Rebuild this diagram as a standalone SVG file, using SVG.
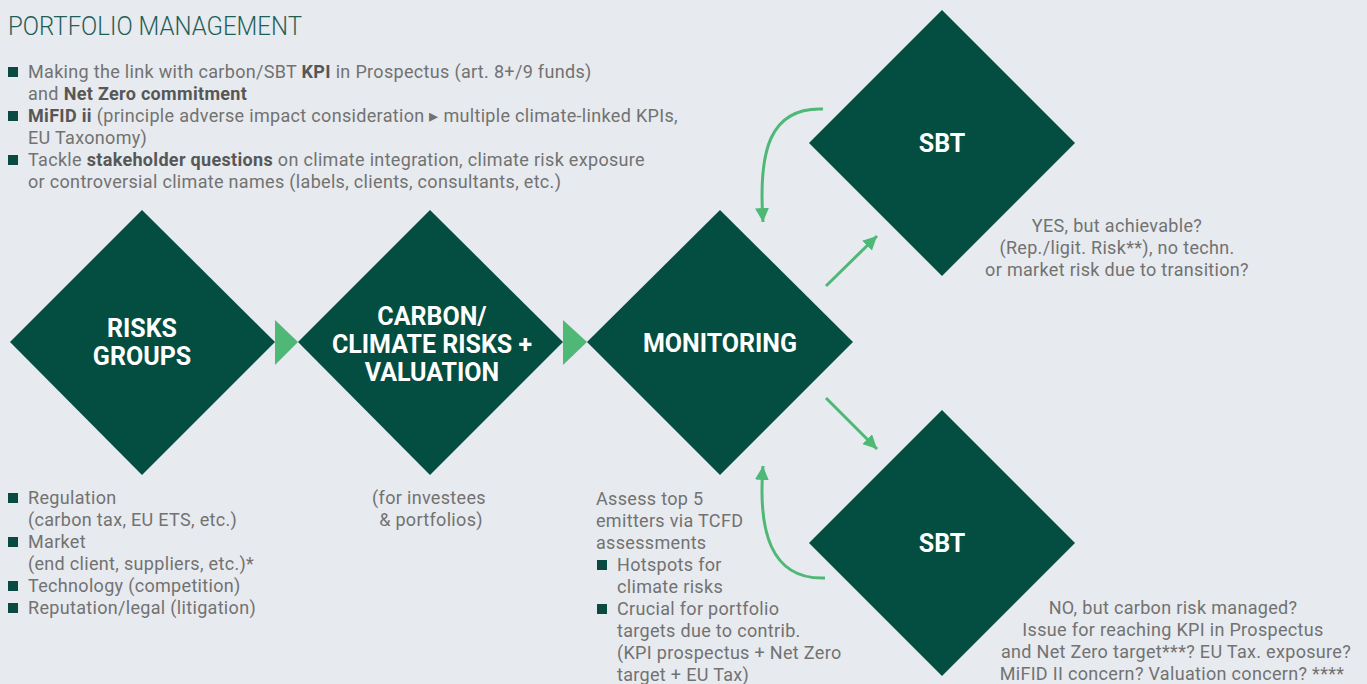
<svg xmlns="http://www.w3.org/2000/svg" width="1367" height="684" viewBox="0 0 1367 684">
<defs>
<style>
.bg{fill:#e7eaee}
.dia{fill:#034d41}
.tri{fill:#4fb877}
.lbl{font-family:Roboto,"Liberation Sans",sans-serif;font-weight:700;font-size:25px;fill:#ffffff;text-anchor:middle}
.txt{font-family:Roboto,"Liberation Sans",sans-serif;font-size:18px;letter-spacing:0.32px;fill:#727272}
.b{font-weight:700;fill:#575757}
.mid{text-anchor:middle}
.title{font-family:Roboto,"Liberation Sans",sans-serif;font-weight:300;font-size:25px;fill:#1f5f58}
.bul{fill:#0b4a40}
.con{fill:none;stroke:#4fb877;stroke-width:3}
</style>
<marker id="ah" markerUnits="userSpaceOnUse" markerWidth="20" markerHeight="20" refX="14" refY="7" orient="auto">
<path d="M0,0 L14,7 L0,14 Z" fill="#4fb877"/>
</marker>
</defs>
<rect class="bg" x="0" y="0" width="1367" height="684"/>

<text class="title" x="8" y="35" textLength="294" lengthAdjust="spacingAndGlyphs">PORTFOLIO MANAGEMENT</text>

<g id="intro">
<rect class="bul" x="8" y="67" width="10" height="10"/>
<text class="txt" x="28" y="78">Making the link with carbon/SBT <tspan class="b">KPI</tspan> in Prospectus (art. 8+/9 funds)</text>
<text class="txt" x="28" y="100">and <tspan class="b">Net Zero commitment</tspan></text>
<rect class="bul" x="8" y="111" width="10" height="10"/>
<text class="txt" x="28" y="122"><tspan class="b">MiFID ii</tspan> (principle adverse impact consideration ▸ multiple climate-linked KPIs,</text>
<text class="txt" x="28" y="144">EU Taxonomy)</text>
<rect class="bul" x="8" y="155" width="10" height="10"/>
<text class="txt" x="28" y="166">Tackle <tspan class="b">stakeholder questions</tspan> on climate integration, climate risk exposure</text>
<text class="txt" x="28" y="188">or controversial climate names (labels, clients, consultants, etc.)</text>
</g>

<g id="risks-groups">
<polygon class="dia" points="10,342 142,210 275,342 142,475"/>
<text class="lbl" x="142" y="337">RISKS</text>
<text class="lbl" x="142" y="365">GROUPS</text>
</g>

<g id="carbon-climate">
<polygon class="dia" points="298,342 430,210 563,342 430,475"/>
<text class="lbl" x="432" y="325">CARBON/</text>
<text class="lbl" x="432" y="353">CLIMATE RISKS +</text>
<text class="lbl" x="432" y="381">VALUATION</text>
</g>

<g id="monitoring">
<polygon class="dia" points="587,342 720,210 853,342 720,475"/>
<text class="lbl" x="720" y="352">MONITORING</text>
</g>

<g id="sbt-yes">
<polygon class="dia" points="809,143 942,10 1075,143 942,276"/>
<text class="lbl" x="942" y="152">SBT</text>
</g>

<g id="sbt-no">
<polygon class="dia" points="809,543 942,410 1075,543 942,676"/>
<text class="lbl" x="942" y="552">SBT</text>
</g>

<g id="connectors">
<polygon class="tri" points="275,320 298,342 275,365"/>
<polygon class="tri" points="563,320 587,342 563,365"/>
<path class="con" d="M823,109 C770,107 758,150 763,222" marker-end="url(#ah)"/>
<path class="con" d="M826,286 L877,236" marker-end="url(#ah)"/>
<path class="con" d="M826,398 L877,449" marker-end="url(#ah)"/>
<path class="con" d="M825,578 C770,580 758,530 763,466" marker-end="url(#ah)"/>
</g>

<g id="risk-notes">
<rect class="bul" x="8" y="493" width="10" height="10"/>
<text class="txt" x="28" y="504">Regulation</text>
<text class="txt" x="28" y="526">(carbon tax, EU ETS, etc.)</text>
<rect class="bul" x="8" y="537" width="10" height="10"/>
<text class="txt" x="28" y="548">Market</text>
<text class="txt" x="28" y="570">(end client, suppliers, etc.)*</text>
<rect class="bul" x="8" y="581" width="10" height="10"/>
<text class="txt" x="28" y="592">Technology (competition)</text>
<rect class="bul" x="8" y="603" width="10" height="10"/>
<text class="txt" x="28" y="614">Reputation/legal (litigation)</text>
</g>

<g id="carbon-notes">
<text class="txt mid" x="429" y="504">(for investees</text>
<text class="txt mid" x="431" y="526">&amp; portfolios)</text>
</g>

<g id="monitoring-notes">
<text class="txt" x="596" y="505">Assess top 5</text>
<text class="txt" x="596" y="527">emitters via TCFD</text>
<text class="txt" x="596" y="549">assessments</text>
<rect class="bul" x="597" y="560" width="10" height="10"/>
<text class="txt" x="617" y="571">Hotspots for</text>
<text class="txt" x="617" y="593">climate risks</text>
<rect class="bul" x="597" y="604" width="10" height="10"/>
<text class="txt" x="617" y="615">Crucial for portfolio</text>
<text class="txt" x="617" y="637">targets due to contrib.</text>
<text class="txt" x="617" y="659">(KPI prospectus + Net Zero</text>
<text class="txt" x="617" y="681">target + EU Tax)</text>
</g>

<g id="yes-notes">
<text class="txt mid" x="1117" y="232">YES, but achievable?</text>
<text class="txt mid" x="1117" y="254">(Rep./ligit. Risk**), no techn.</text>
<text class="txt mid" x="1117" y="276">or market risk due to transition?</text>
</g>

<g id="no-notes">
<text class="txt mid" x="1173" y="614">NO, but carbon risk managed?</text>
<text class="txt mid" x="1173" y="636">Issue for reaching KPI in Prospectus</text>
<text class="txt mid" x="1176" y="658">and Net Zero target***? EU Tax. exposure?</text>
<text class="txt mid" x="1172" y="680">MiFID II concern? Valuation concern? ****</text>
</g>
</svg>
